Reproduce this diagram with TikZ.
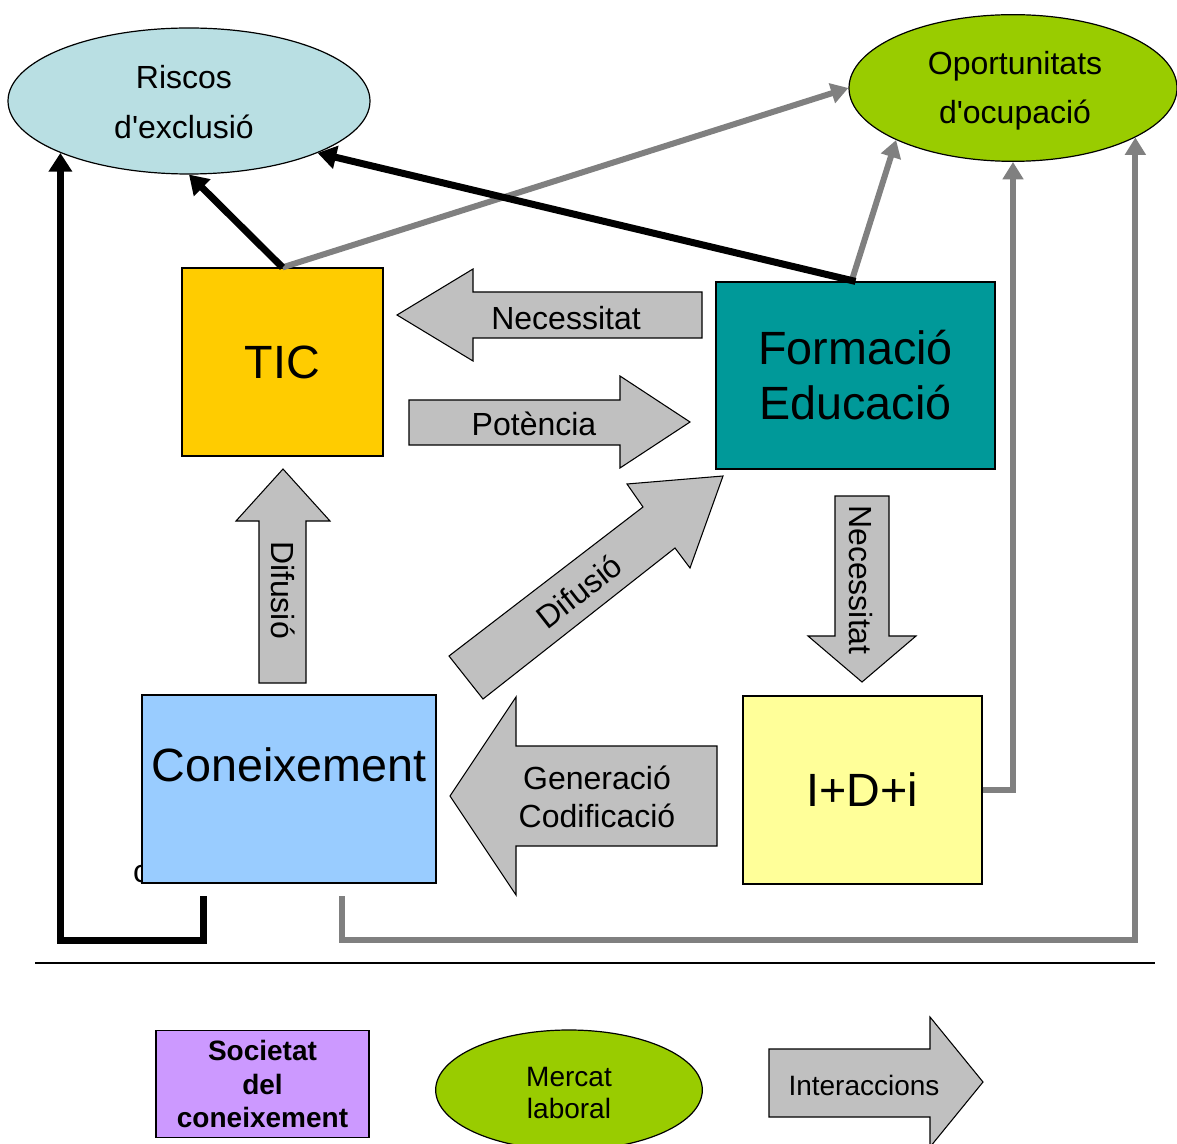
\documentclass[tikz,border=0pt]{standalone}
\usepackage{fontspec}
\setmainfont{Liberation Sans}
\usetikzlibrary{arrows.meta,shapes.geometric}
\definecolor{risc}{HTML}{B9DFE3}
\definecolor{oportc}{HTML}{99CC00}
\definecolor{ticc}{HTML}{FFCC00}
\definecolor{formc}{HTML}{009999}
\definecolor{conec}{HTML}{99CCFF}
\definecolor{idic}{HTML}{FFFF99}
\definecolor{socc}{HTML}{CC99FF}
\definecolor{blockgray}{HTML}{C0C0C0}
\definecolor{linegray}{HTML}{808080}
\begin{document}
\begin{tikzpicture}[x=0.75pt,y=-0.75pt,
  box/.style={draw=black,line width=0.9pt,inner sep=0pt},
  ell/.style={ellipse,draw=black,line width=0.9pt,inner sep=0pt},
  blk/.style={draw=black,line width=0.8pt,fill=blockgray,line join=miter},
  bigtxt/.style={font=\fontsize{35}{41.25}\selectfont,align=center,inner sep=0pt},
  medtxt/.style={font=\fontsize{24}{37.5}\selectfont,align=center,inner sep=0pt},
  legtxt/.style={font=\fontsize{21}{25}\selectfont,align=center,inner sep=0pt},
  blacklink/.style={draw=black,line width=5.25pt,-{Triangle[length=14pt,width=17pt]}},
  graylink/.style={draw=linegray,line width=4.5pt,-{Triangle[length=13pt,width=15pt]}},
]
\useasboundingbox (0,0) rectangle (1177,1144);

% ellipses
\node[ell,fill=risc,minimum width=271.5pt,minimum height=109.5pt] (riscos) at (189,101) {};
\node[medtxt] (risctxt) at (184,102) {Riscos\\d\textquotesingle exclusió};
\node[ell,fill=oportc,minimum width=246pt,minimum height=110pt] (oport) at (1013,88) {};
\node[font=\fontsize{24}{36.75}\selectfont,align=center,inner sep=0pt] (oporttxt) at (1015,91) {Oportunitats\\d\textquotesingle ocupació};

% boxes
\node[box,fill=ticc,minimum width=150.75pt,minimum height=141pt,font=\fontsize{35}{41.25}\selectfont] (tic) at (282.5,362) {TIC};
\node[box,fill=formc,minimum width=209.25pt,minimum height=140.25pt,bigtxt] (form) at (855.5,375.5) {Formació\\Educació};
\node[inner sep=0pt,font=\fontsize{24}{28}\selectfont] (stray) at (141,874) {c};
\node[box,fill=conec,minimum width=220.5pt,minimum height=141pt] (cone) at (289,789) {};
\node[bigtxt] (conetxt) at (289,765) {Coneixement};
\node[box,fill=idic,minimum width=179.25pt,minimum height=141pt,font=\fontsize{35}{41.25}\selectfont] (idi) at (862.5,790) {I+D+i};

% block arrows
\draw[blk] (397,315) -- (473,269) -- (473,292) -- (702,292) -- (702,338) -- (473,338) -- (473,361) -- cycle;
\node[medtxt] (tnec1) at (566,318) {Necessitat};
\draw[blk] (409,400) -- (620,400) -- (620,376) -- (690,422) -- (620,468) -- (620,445) -- (409,445) -- cycle;
\node[medtxt] (tpot) at (534,424) {Potència};
\draw[blk] (259,683) -- (259,521) -- (236,521) -- (283,469) -- (330,521) -- (306,521) -- (306,683) -- cycle;
\node[medtxt,rotate=-90] (tdif1) at (283,590) {Difusió};
\draw[blk] (449,656) -- (643,507) -- (627,484) -- (723,476) -- (690,568) -- (675,548) -- (483,699) -- cycle;
\node[medtxt,rotate=38] (tdif2) at (579,591) {Difusió};
\draw[blk] (835,496) -- (889,496) -- (889,636) -- (916,636) -- (862,682) -- (808,636) -- (835,636) -- cycle;
\node[medtxt,rotate=-90] (tnec2) at (861,580) {Necessitat};
\draw[blk] (450,796) -- (516,697) -- (516,746) -- (717,746) -- (717,846) -- (516,846) -- (516,895) -- cycle;
\node[font=\fontsize{24}{28.5}\selectfont,align=center,inner sep=0pt] (tgen) at (597,797) {Generació\\Codificació};

% connectors
\coordinate (kb) at (203,896);
\coordinate (kg) at (342,896);
\draw[graylink] (tic.north) -- (oport.west);
\draw[graylink] ([xshift=-3pt]form.north) -- (oport.204);
\draw[graylink] (idi.east) -| (oport.south);
\draw[graylink] (kg) -- ++(0,44) -| (oport.338);
\draw[blacklink] (tic.north) -- (riscos.south);
\draw[blacklink] (form.north) -- (riscos.338);
\draw[blacklink] (kb) -- ++(0,44) -| (riscos.202);

% separator
\draw[line width=1.5pt] (35,963) -- (1155,963);

% legend
\node[box,fill=socc,minimum width=159.75pt,minimum height=80.25pt,align=center,font=\fontsize{21}{25}\selectfont\bfseries] (soc) at (262.5,1084) {Societat\\del\\coneixement};
\node[ell,fill=oportc,minimum width=200pt,minimum height=90pt] (merc) at (569,1090) {};
\node[font=\fontsize{21}{24}\selectfont,align=center,inner sep=0pt] (merctxt) at (569,1093) {Mercat\\laboral};
\draw[blk] (769,1049) -- (930,1049) -- (930,1017) -- (983,1082) -- (930,1147) -- (930,1117) -- (769,1117) -- cycle;
\node[legtxt] (tint) at (864,1085) {Interaccions};
\end{tikzpicture}
\end{document}
